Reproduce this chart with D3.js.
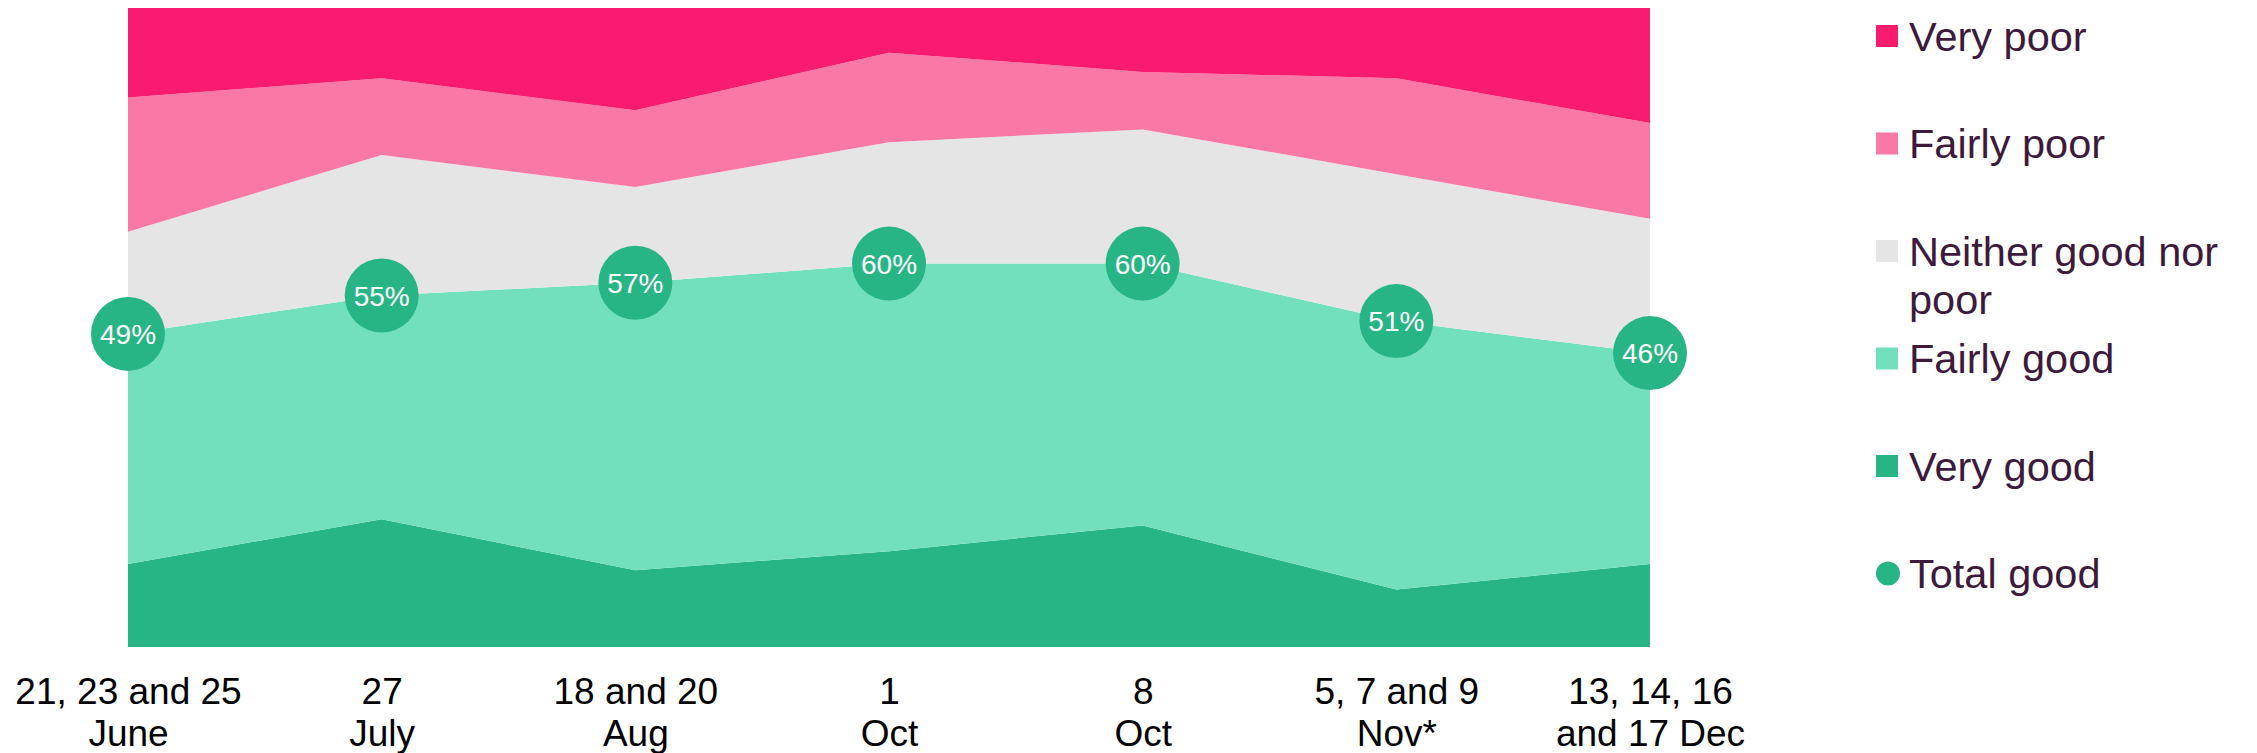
<!DOCTYPE html>
<html lang="en">
<head>
    <meta charset="UTF-8">
    <script src="https://d3js.org/d3.v7.min.js"></script>
    <style>
        body { margin: 0; background: #fff; }
        .x-label { font: 37px "Liberation Sans", Arial, sans-serif; fill: #000; }
        .legend-text { font: 41.5px "Liberation Sans", Arial, sans-serif; fill: #3d1a3c; }
        .bubble-text { font: 28px "Liberation Sans", Arial, sans-serif; fill: #fff; }
    </style>
</head>
<body>
<div id="chart"></div>
<script>
// Data
const waves = ["21, 23 and 25|June", "27|July", "18 and 20|Aug", "1|Oct", "8|Oct", "5, 7 and 9|Nov*", "13, 14, 16|and 17 Dec"];
const veryGood    = [13, 20, 12, 15, 19,  9, 13];
const fairlyGood  = [36, 35, 45, 45, 41, 42, 33];
const neither     = [16, 22, 15, 19, 21, 23, 21];
const fairlyPoor  = [21, 12, 12, 14,  9, 15, 15];
const veryPoor    = [14, 11, 16,  7, 10, 11, 18];
const totalGood   = [49, 55, 57, 60, 60, 51, 46];

const seriesNames = ["Very good", "Fairly good", "Neither good nor poor", "Fairly poor", "Very poor"];
const seriesColors = ["#28b586", "#72e0bd", "#e5e5e5", "#fa78a6", "#f91c6e"];

// Dimensions
const dims = { width: 2257, height: 753, left: 128, right: 1650, top: 8, bottom: 647 };

const svg = d3.select("#chart")
    .append("svg")
    .attr("width", dims.width)
    .attr("height", dims.height);

// table for the stack
const table = waves.map((w, i) => ({
    wave: w,
    "Very good": veryGood[i],
    "Fairly good": fairlyGood[i],
    "Neither good nor poor": neither[i],
    "Fairly poor": fairlyPoor[i],
    "Very poor": veryPoor[i]
}));

const stacked = d3.stack().keys(seriesNames)(table);

// Scales
const xScale = d3.scalePoint()
    .domain(waves)
    .range([dims.left, dims.right]);

const yScale = d3.scaleLinear()
    .domain([0, 100])
    .range([dims.bottom, dims.top]);

const color = d3.scaleOrdinal().domain(seriesNames).range(seriesColors);

// Areas
const area = d3.area()
    .x(d => xScale(d.data.wave))
    .y0(d => yScale(d[0]))
    .y1(d => yScale(d[1]));

svg.append("g")
    .selectAll("path")
    .data(stacked)
    .join("path")
    .attr("d", area)
    .attr("fill", d => color(d.key));

// X axis
const xAxis = d3.axisBottom(xScale).tickSize(0).tickPadding(0);
const gx = svg.append("g")
    .attr("transform", `translate(0, ${dims.bottom})`)
    .call(xAxis);
gx.select(".domain").remove();
gx.selectAll(".tick text").each(function (d) {
    const t = d3.select(this);
    t.text(null)
        .attr("class", "x-label")
        .attr("y", 0)
        .attr("dy", null)
        .attr("text-anchor", "middle");
    d.split("|").forEach((line, k) => {
        t.append("tspan")
            .attr("x", 0)
            .attr("y", 57 + k * 42)
            .text(line);
    });
});

// Total good bubbles
const bubbles = svg.append("g")
    .selectAll("g")
    .data(waves)
    .join("g")
    .attr("transform", (w, i) => `translate(${xScale(w)}, ${yScale(totalGood[i])})`);

bubbles.append("circle")
    .attr("r", 37)
    .attr("fill", "#28b586");

bubbles.append("text")
    .attr("class", "bubble-text")
    .attr("text-anchor", "middle")
    .attr("dy", "0.36em")
    .text((w, i) => `${totalGood[i]}%`);

// Legend
const legendItems = [
    { name: ["Very poor"], color: "#f91c6e", shape: "rect" },
    { name: ["Fairly poor"], color: "#fa78a6", shape: "rect" },
    { name: ["Neither good nor", "poor"], color: "#e5e5e5", shape: "rect" },
    { name: ["Fairly good"], color: "#72e0bd", shape: "rect" },
    { name: ["Very good"], color: "#28b586", shape: "rect" },
    { name: ["Total good"], color: "#28b586", shape: "circle" }
];

const legend = svg.append("g")
    .selectAll("g")
    .data(legendItems)
    .join("g")
    .attr("transform", (d, i) => `translate(1876, ${36 + i * 107.5})`);

legend.filter(d => d.shape === "rect")
    .append("rect")
    .attr("x", 0)
    .attr("y", -11)
    .attr("width", 22)
    .attr("height", 22)
    .attr("fill", d => d.color);

legend.filter(d => d.shape === "circle")
    .append("circle")
    .attr("cx", 12)
    .attr("cy", 0)
    .attr("r", 12)
    .attr("fill", d => d.color);

legend.append("text")
    .attr("class", "legend-text")
    .each(function (d) {
        const t = d3.select(this);
        d.name.forEach((line, k) => {
            t.append("tspan")
                .attr("x", 33)
                .attr("y", k * 48)
                .attr("dy", "0.36em")
                .text(line);
        });
    });
</script>
</body>
</html>
